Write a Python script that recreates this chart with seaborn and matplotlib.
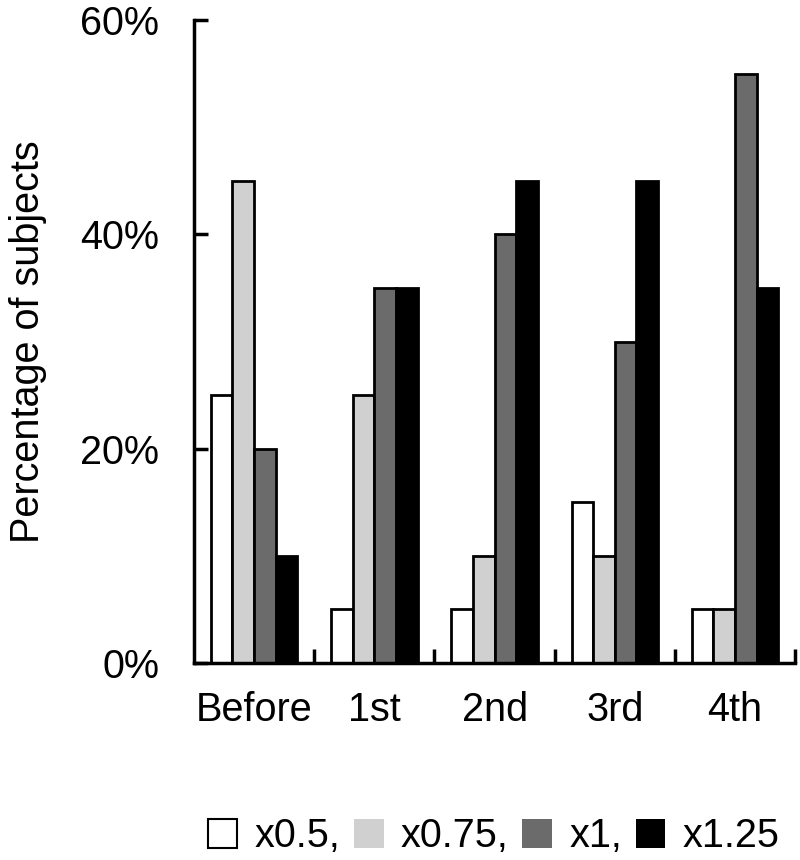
import matplotlib
matplotlib.use("Agg")
import matplotlib.pyplot as plt
import seaborn as sns
import pandas as pd

stages = ["Before", "1st", "2nd", "3rd", "4th"]
doses = ["x0.5", "x0.75", "x1", "x1.25"]
pct_x05 = [25, 5, 5, 15, 5]
pct_x075 = [45, 25, 10, 10, 5]
pct_x1 = [20, 35, 40, 30, 55]
pct_x125 = [10, 35, 45, 45, 35]
legend_labels = ["x0.5,", "x0.75,", "x1,", "x1.25"]
y_ticks = [0, 20, 40, 60]

rows = []
for dose, vals in zip(doses, [pct_x05, pct_x075, pct_x1, pct_x125]):
    for st, v in zip(stages, vals):
        rows.append({"stage": st, "dose": dose, "pct": v})
df = pd.DataFrame(rows)

sns.set_style("white")
plt.rcParams["font.family"] = ["Liberation Sans", "DejaVu Sans"]
plt.rcParams["text.color"] = "black"
plt.rcParams["axes.labelcolor"] = "black"
plt.rcParams["xtick.color"] = "black"
plt.rcParams["ytick.color"] = "black"

FS = 28.5

fig = plt.figure(figsize=(8, 8.6), dpi=100)
ax = fig.add_axes([0.2425, 0.229, 0.7515, 0.7477])

palette = ["#ffffff", "#d0d0d0", "#6b6b6b", "#000000"]
sns.barplot(data=df, x="stage", y="pct", hue="dose", order=stages, hue_order=doses,
            palette=palette, edgecolor="black", linewidth=2, width=0.72, gap=0,
            saturation=1, ax=ax)

ax.set_xlim(-0.5, len(stages) - 0.5)
ax.set_ylim(0, 60)
ax.set_yticks(y_ticks)
ax.set_yticklabels([f"{t}%" for t in y_ticks])
ax.set_xlabel("")
ax.set_ylabel("Percentage of subjects", fontsize=FS, labelpad=24)

for s in ["top", "right"]:
    ax.spines[s].set_visible(False)
for s in ["left", "bottom"]:
    ax.spines[s].set_linewidth(2.5)
    ax.spines[s].set_color("black")

ax.tick_params(axis="y", direction="in", length=10, width=2.5, labelsize=FS, pad=25, left=True)
ax.tick_params(axis="x", which="major", length=0, labelsize=FS, pad=20, bottom=True)
ax.set_xticks([i + 0.5 for i in range(len(stages))], minor=True)
ax.tick_params(axis="x", which="minor", direction="in", length=10, width=2.5, bottom=True)

handles, _ = ax.get_legend_handles_labels()
if ax.get_legend() is not None:
    ax.get_legend().remove()
for h, c in zip(handles, palette):
    if c == "#ffffff":
        h.set_edgecolor("black")
        h.set_linewidth(1.5)
    else:
        h.set_edgecolor(c)
        h.set_linewidth(0)
fig.legend(handles, legend_labels, loc="center", bbox_to_anchor=(0.617, 0.028), ncol=4,
           frameon=False, fontsize=FS, handlelength=0.75, handleheight=0.75,
           handletextpad=0.44, columnspacing=0.34, borderaxespad=0, borderpad=0)

fig.savefig("out.png", dpi=100)
